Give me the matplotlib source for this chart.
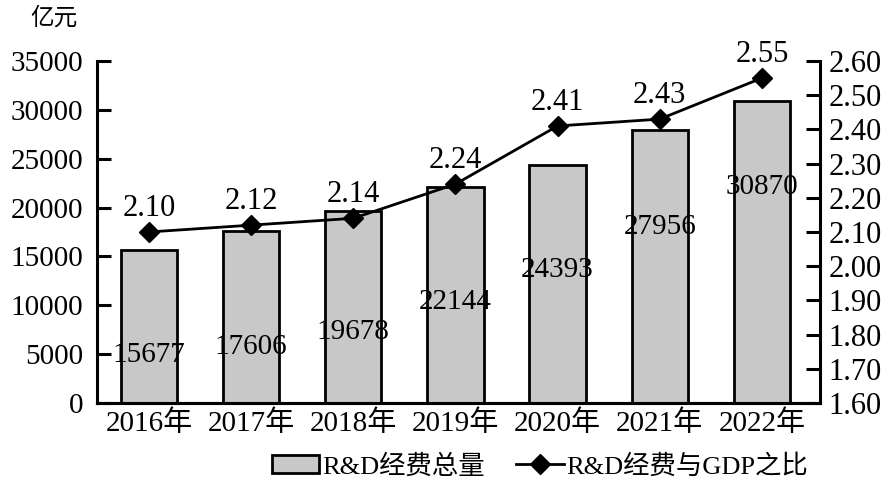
import matplotlib
matplotlib.use("Agg")
from matplotlib import pyplot as plt
from matplotlib.patches import Patch
from matplotlib.lines import Line2D
import numpy as np

plt.rcParams['font.family'] = ['Liberation Serif', 'Noto Sans CJK SC']

anos = ['2016年', '2017年', '2018年', '2019年', '2020年', '2021年', '2022年']
gasto_total = [15677, 17606, 19678, 22144, 24393, 27956, 30870]
razao_gdp = [2.10, 2.12, 2.14, 2.24, 2.41, 2.43, 2.55]

esq_ticks = [0, 5000, 10000, 15000, 20000, 25000, 30000, 35000]
dir_ticks = [1.60, 1.70, 1.80, 1.90, 2.00, 2.10, 2.20, 2.30, 2.40, 2.50, 2.60]


def main():
    fig = plt.figure(figsize=(8.85, 4.79), dpi=100)
    ax = fig.add_axes([0.1096, 0.1587, 0.817, 0.714])
    ax2 = ax.twinx()

    x = np.arange(len(anos))
    ax.bar(x, gasto_total, width=0.55, color='#c8c8c8', edgecolor='black', linewidth=2, zorder=2)

    # altura dos rótulos dentro das barras (como no original)
    pos_rotulo = [4900, 5730, 7270, 10340, 13600, 18000, 22100]
    for xi, v, p in zip(x, gasto_total, pos_rotulo):
        ax.text(xi, p, str(v), ha='center', va='center', fontsize=21, zorder=5)

    ax.set_ylim(0, 35000)
    ax.set_xlim(-0.51, 6.57)
    ax.set_yticks(esq_ticks)
    ax.set_yticklabels([str(t) for t in esq_ticks], fontsize=21)
    ax.set_xticks(x)
    ax.set_xticklabels(anos, fontsize=21)
    ax.tick_params(axis='x', length=0, pad=5)
    ax.tick_params(axis='y', direction='in', length=10, width=2.2, pad=10)

    ax2.plot(x, razao_gdp, color='black', linewidth=2, marker='D', markersize=10, zorder=4)
    for xi, v in zip(x, razao_gdp):
        ax2.annotate(f'{v:.2f}', (xi, v), xytext=(0, 17), textcoords='offset points',
                     ha='center', va='center', fontsize=22)
    ax2.set_ylim(1.60, 2.60)
    ax2.set_yticks(dir_ticks)
    ax2.set_yticklabels([f'{t:.2f}' for t in dir_ticks], fontsize=22)
    ax2.tick_params(axis='y', direction='in', length=10, width=2.2, pad=6)

    for a in (ax, ax2):
        a.spines['top'].set_visible(False)
        a.spines['left'].set_linewidth(2.2)
        a.spines['right'].set_linewidth(2.2)
        a.spines['bottom'].set_linewidth(2.2)
    ax.spines['right'].set_visible(False)
    ax2.spines['left'].set_visible(False)

    fig.text(0.034, 0.962, '亿元', fontsize=17, va='center', ha='left')

    itens = [Patch(facecolor='#c8c8c8', edgecolor='black', linewidth=2),
             Line2D([0], [0], color='black', linewidth=2, marker='D', markersize=10)]
    fig.legend(itens, ['R&D经费总量', 'R&D经费与GDP之比'], loc='center',
               bbox_to_anchor=(0.61, 0.027), ncol=2, frameon=False, fontsize=19,
               handlelength=1.8, handletextpad=0.1, columnspacing=1.2)

    fig.savefig('out.png', dpi=100)


if __name__ == "__main__":
    main()
